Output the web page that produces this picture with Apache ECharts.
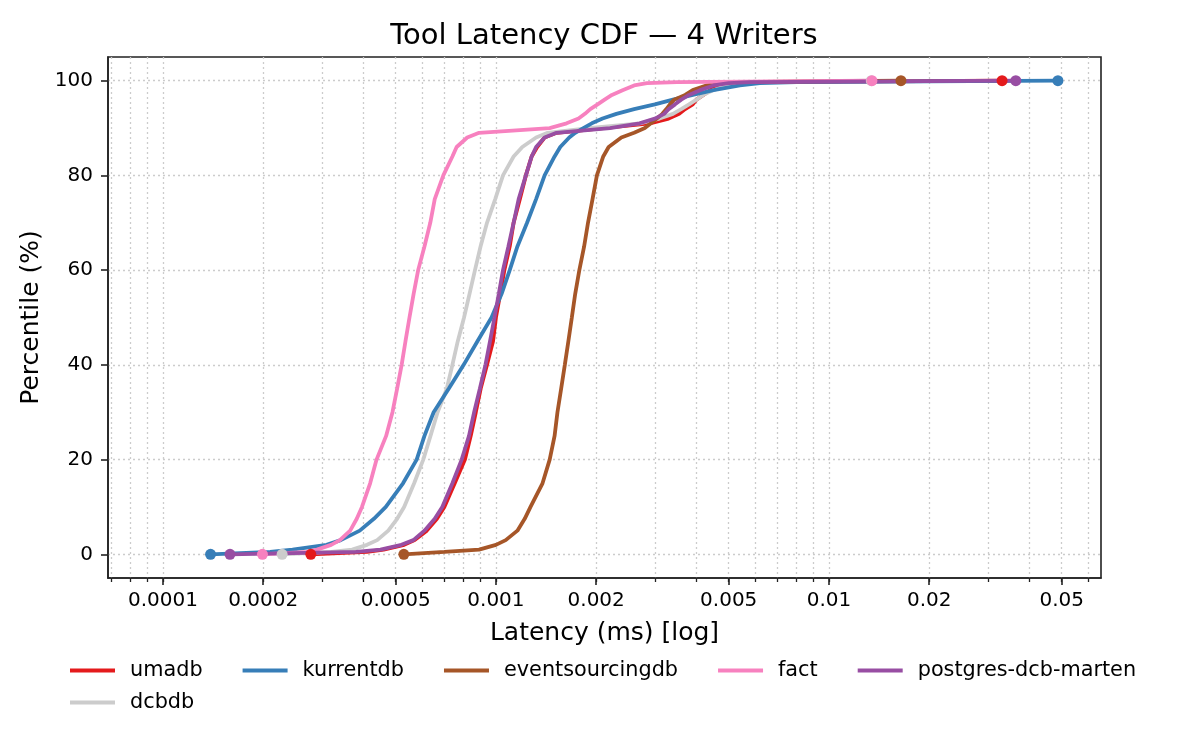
<!DOCTYPE html>
<html>
<head>
<meta charset="utf-8">
<script src="https://cdn.jsdelivr.net/npm/echarts@6/dist/echarts.min.js"></script>
<style>
  html, body { margin: 0; padding: 0; background: #fff; }
  #chart { width: 1200px; height: 750px; }
</style>
</head>
<body>
<div id="chart"></div>
<script>
// percentile levels shared by every series (y)
var percentiles = [0, 0.5, 1, 2, 3, 5, 7.5, 10, 15, 20, 25, 30, 35, 40, 45, 50, 55, 60, 65, 70, 75,
    80, 84, 86, 88, 89, 90, 91, 92, 93, 94, 95, 96, 97, 98, 99, 99.5, 99.7, 100];

// latency (ms) at each percentile
var umadb = [0.000278, 0.00041, 0.00046, 0.00053, 0.00057, 0.00062, 0.000665, 0.0007, 0.000752, 0.000807,
    0.00084, 0.00087, 0.0009, 0.00094, 0.00098, 0.001, 0.00103, 0.00106, 0.0011, 0.00113, 0.00118,
    0.00123, 0.00128, 0.00133, 0.0014, 0.00152, 0.0021, 0.0029, 0.0033, 0.00355, 0.0037, 0.0039,
    0.004, 0.0042, 0.0044, 0.0047, 0.0052, 0.006, 0.0331];
var dcbdb = [0.000228, 0.00032, 0.00037, 0.00041, 0.00044, 0.000475, 0.000505, 0.00053, 0.000568, 0.000605,
    0.000636, 0.000668, 0.000712, 0.00074, 0.000768, 0.000802, 0.000833, 0.000865, 0.000899, 0.00094, 0.000995,
    0.00105, 0.00113, 0.0012, 0.00132, 0.00143, 0.0019, 0.0027, 0.0031, 0.0034, 0.0036, 0.0038,
    0.004, 0.0042, 0.0045, 0.0049, 0.0053, 0.006, 0.0134];
var kurrentdb = [0.000139, 0.00021, 0.000245, 0.00031, 0.000342, 0.00039, 0.00043, 0.000467, 0.000526, 0.000578,
    0.00061, 0.00065, 0.000722, 0.0008, 0.00088, 0.00097, 0.00104, 0.0011, 0.00116, 0.00124, 0.00132,
    0.0014, 0.0015, 0.00156, 0.00166, 0.00173, 0.00183, 0.00194, 0.00209, 0.0023, 0.0026, 0.003,
    0.0034, 0.0039, 0.0045, 0.0054, 0.0062, 0.008, 0.0487];
var eventsourcingdb = [0.000529, 0.0007, 0.00089, 0.001, 0.00107, 0.00116, 0.00122, 0.00127, 0.00138, 0.00145,
    0.0015, 0.00153, 0.00157, 0.00161, 0.00165, 0.00169, 0.00173, 0.00178, 0.00184, 0.00189, 0.00195,
    0.00201, 0.0021, 0.00218, 0.00238, 0.0026, 0.0028, 0.00292, 0.00304, 0.00316, 0.00325, 0.00333,
    0.00343, 0.0037, 0.0039, 0.0043, 0.0047, 0.0052, 0.01645];
var fact = [0.000199, 0.00027, 0.00029, 0.00032, 0.00034, 0.000365, 0.000382, 0.000396, 0.000419, 0.000438,
    0.000468, 0.000489, 0.000505, 0.000521, 0.000535, 0.00055, 0.000566, 0.000584, 0.00061, 0.000635, 0.000655,
    0.000695, 0.00074, 0.000762, 0.00082, 0.00089, 0.00145, 0.00163, 0.00177, 0.00185, 0.00192, 0.00202,
    0.00212, 0.00223, 0.0024, 0.0026, 0.00284, 0.0035, 0.01346];
var postgresDcbMarten = [0.000159, 0.00038, 0.00045, 0.00052, 0.000565, 0.00061, 0.000655, 0.00069, 0.00074, 0.000789,
    0.00083, 0.00086, 0.000895, 0.00093, 0.00096, 0.00099, 0.00102, 0.00105, 0.00109, 0.00113, 0.00117,
    0.00123, 0.00128, 0.00132, 0.0014, 0.00152, 0.0022, 0.0027, 0.003, 0.0032, 0.0033, 0.00345,
    0.0036, 0.0038, 0.0041, 0.0045, 0.005, 0.0058, 0.0364];

// tick labels
var xTickLabels = ['0.0001', '0.0002', '0.0005', '0.001', '0.002', '0.005', '0.01', '0.02', '0.05'];
var yTickLabels = [0, 20, 40, 60, 80, 100];

var xMin = 6.84e-5, xMax = 0.0656;
var font = 'DejaVu Sans';

// plot order (matplotlib draw order)
var tools = [
    {name: 'umadb', values: umadb, color: '#e41a1c'},
    {name: 'dcbdb', values: dcbdb, color: '#cccccc'},
    {name: 'kurrentdb', values: kurrentdb, color: '#377eb8'},
    {name: 'eventsourcingdb', values: eventsourcingdb, color: '#a65628'},
    {name: 'fact', values: fact, color: '#f781bf'},
    {name: 'postgres-dcb-marten', values: postgresDcbMarten, color: '#984ea3'}
];

// every 1..9 multiple inside the range, for minor ticks and grid
var minorTicks = [];
for (var e = -5; e <= -1; e++) {
    for (var m = 1; m <= 9; m++) {
        var v = Number((m * Math.pow(10, e)).toPrecision(3));
        if (v >= xMin && v <= xMax) minorTicks.push(v);
    }
}
var majorTicks = xTickLabels.map(Number);

var series = [];
tools.forEach(function (t) {
    series.push({
        name: t.name,
        type: 'line',
        xAxisIndex: 0,
        data: t.values.map(function (v, i) { return [v, percentiles[i]]; }),
        showSymbol: false,
        symbol: 'none',
        lineStyle: {width: 3.8, color: t.color},
        itemStyle: {color: t.color},
        z: 2
    });
});
// first/last point markers on top
tools.forEach(function (t) {
    var n = t.values.length - 1;
    series.push({
        type: 'scatter',
        xAxisIndex: 0,
        data: [[t.values[0], percentiles[0]], [t.values[n], percentiles[n]]],
        symbolSize: 11,
        itemStyle: {color: t.color, opacity: 1},
        z: 3,
        silent: true
    });
});

function fmtX(v) {
    return String(Number(Number(v).toPrecision(6)));
}

var legendBase = {
    orient: 'horizontal',
    left: 70,
    padding: 0,
    itemWidth: 45,
    itemHeight: 4,
    itemGap: 40,
    icon: 'rect',
    textStyle: {fontFamily: font, fontSize: 20.8, color: '#000', padding: [0, 0, 0, 10]}
};

var myChart = echarts.init(document.getElementById('chart'));

myChart.setOption({
    animation: false,
    backgroundColor: '#fff',
    title: {
        text: 'Tool Latency CDF — 4 Writers',
        left: 604,
        top: 22,
        textAlign: 'center',
        padding: 0,
        textStyle: {fontFamily: font, fontSize: 29, fontWeight: 'normal', color: '#000'}
    },
    legend: [
        Object.assign({}, legendBase, {top: 660, data: ['umadb', 'kurrentdb', 'eventsourcingdb', 'fact', 'postgres-dcb-marten']}),
        Object.assign({}, legendBase, {top: 692, data: ['dcbdb']})
    ],
    grid: {
        left: 108, right: 99, top: 57, bottom: 172,
        show: true, borderColor: '#222', borderWidth: 1.6,
        containLabel: false
    },
    xAxis: [{
        type: 'log',
        logBase: 10,
        min: xMin,
        max: xMax,
        position: 'bottom',
        name: 'Latency (ms) [log]',
        nameLocation: 'middle',
        nameGap: 43,
        nameTextStyle: {fontFamily: font, fontSize: 25, color: '#000'},
        axisLine: {show: true, onZero: false, lineStyle: {color: '#222', width: 1.6}},
        axisTick: {show: true, customValues: minorTicks, length: 4, lineStyle: {color: '#222', width: 1.3}},
        axisLabel: {show: true, customValues: majorTicks, margin: 13, formatter: fmtX,
            fontFamily: font, fontSize: 20, color: '#000'},
        splitLine: {show: true, lineStyle: {color: '#cccccc', width: 1.3, type: [2, 3]}},
        minorTick: {show: false},
        minorSplitLine: {show: false}
    }, {
        type: 'log',
        logBase: 10,
        min: xMin,
        max: xMax,
        position: 'bottom',
        axisLine: {show: false, onZero: false},
        axisTick: {show: true, customValues: majorTicks, length: 7, lineStyle: {color: '#222', width: 1.6}},
        axisLabel: {show: false},
        splitLine: {show: false}
    }],
    yAxis: {
        type: 'value',
        min: -5,
        max: 105,
        name: 'Percentile (%)',
        nameLocation: 'middle',
        nameGap: 62,
        nameTextStyle: {fontFamily: font, fontSize: 25, color: '#000'},
        axisLine: {show: true, onZero: false, lineStyle: {color: '#222', width: 1.6}},
        axisTick: {show: true, customValues: yTickLabels, length: 7, lineStyle: {color: '#222', width: 1.6}},
        axisLabel: {show: true, customValues: yTickLabels, margin: 15,
            fontFamily: font, fontSize: 20, color: '#000'},
        splitLine: {show: true, lineStyle: {color: '#cccccc', width: 1.3, type: [2, 3]}}
    },
    series: series
});
</script>
</body>
</html>
